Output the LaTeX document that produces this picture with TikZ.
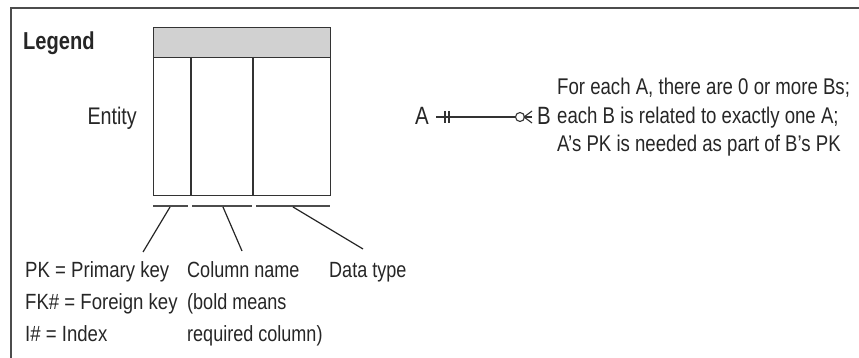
\documentclass[tikz,border=0pt]{standalone}
\usepackage{fontspec}
\setmainfont{Liberation Sans}[FakeStretch=0.82]
\newfontfamily\widesans{Liberation Sans}[FakeStretch=0.845]
\begin{document}
\begin{tikzpicture}[x=1pt,y=-1pt,
  ink/.style={draw=black!80},
  txt/.style={inner sep=0pt,text=black!85,font=\fontsize{22}{32}\selectfont,align=left},
  barline/.style={draw=black!70,line width=2.4pt},
  leader/.style={draw=black!85,line width=1.2pt}]
\useasboundingbox (0,0) rectangle (859,358);
% frame
\draw[draw=black!70,line width=2pt] (11,358) -- (11,8) -- (859,8);
% legend title
\node[txt,anchor=base west,font=\fontsize{24.5}{30}\selectfont\bfseries] (legend) at (23,50) {Legend};
% entity box
\node[ink,line width=1.3pt,fill=black!18,anchor=north west,minimum width=177pt,minimum height=30pt,inner sep=0pt] (hdr) at (153,27) {};
\node[ink,line width=1.3pt,anchor=north west,minimum width=177pt,minimum height=138pt,inner sep=0pt] (body) at (153,57) {};
\draw[ink,line width=1.3pt] (191,57) -- (191,195);
\draw[ink,line width=1.3pt] (253,57) -- (253,195);
\node[txt,anchor=base east,font=\fontsize{24}{30}\selectfont] (entity) at (137,125) {Entity};
% bars under columns
\coordinate (b1s) at (153,206); \coordinate (b1e) at (188,206);
\coordinate (b2s) at (192,206); \coordinate (b2e) at (252,206);
\coordinate (b3s) at (256,206); \coordinate (b3e) at (330,206);
\draw[barline] (b1s) -- (b1e);
\draw[barline] (b2s) -- (b2e);
\draw[barline] (b3s) -- (b3e);
% labels (anchored at the baseline of the last line)
\node[txt,anchor=base west,font=\widesans\fontsize{22}{32}\selectfont] (pk) at (25,341) {PK = Primary key\\FK\# = Foreign key\\I\# = Index};
\node[txt,anchor=base west] (col) at (187,341) {Column name\\(bold means\\required column)};
\node[txt,anchor=base west] (dt) at (329,277) {Data type};
% leaders
\coordinate (l1a) at (170,207); \coordinate (l1b) at (143,252);
\coordinate (l2a) at (223,207); \coordinate (l2b) at (242,251);
\coordinate (l3a) at (293,207); \coordinate (l3b) at (363,249);
\draw[leader] (l1a) -- (l1b);
\draw[leader] (l2a) -- (l2b);
\draw[leader] (l3a) -- (l3b);
% relationship
\node[txt,anchor=base west,font=\fontsize{25}{30}\selectfont] (A) at (415,125) {A};
\node[txt,anchor=base west,font=\fontsize{25}{30}\selectfont] (B) at (537,125) {B};
\coordinate (rs) at (436,117); \coordinate (re) at (532,117);
\coordinate (cc) at (520,117);
\draw[draw=black!80,line width=1.4pt] (rs) -- (re);
\draw[draw=black!80,line width=1.1pt] (445,111) -- (445,123) (449,111) -- (449,123);
\draw[draw=black!80,line width=1.1pt,fill=white] (cc) circle (4.5);
\draw[draw=black!80,line width=1.1pt] (532,111) -- (524,117) -- (532,123);
\node[txt,anchor=base west,font=\fontsize{22.7}{28.5}\selectfont] (desc) at (557,152) {For each A, there are 0 or more Bs;\\each B is related to exactly one A;\\A’s PK is needed as part of B’s PK};
\end{tikzpicture}
\end{document}
